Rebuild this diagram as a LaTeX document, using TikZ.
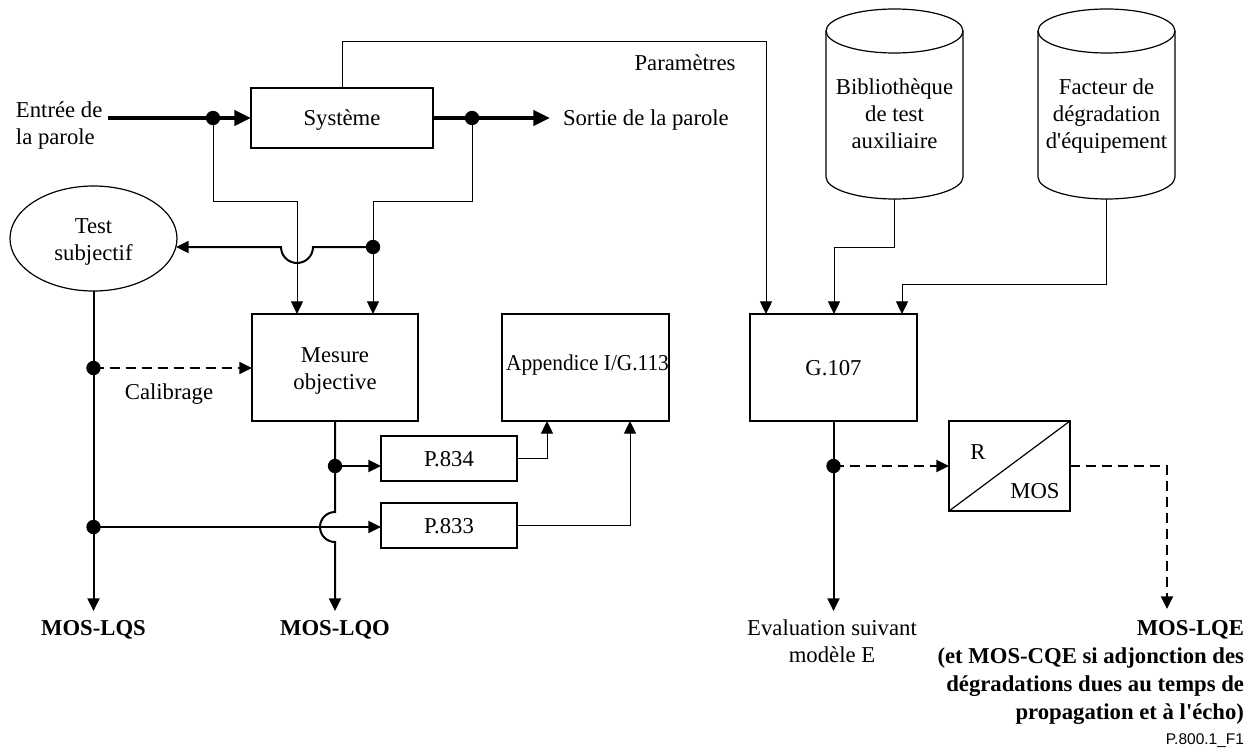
\documentclass[tikz,border=0pt]{standalone}
\usepackage{fontspec}
\setmainfont{Liberation Serif}
\newfontfamily\figsans{Liberation Sans}
\usepackage{graphicx}
\usetikzlibrary{arrows.meta,calc,shapes.geometric}
\begin{document}
\begin{tikzpicture}[x=0.5pt,y=-0.5pt,
  font=\fontsize{11.35pt}{13.5pt}\selectfont,
  every node/.style={inner sep=0pt, outer sep=0pt},
  box/.style={draw, line width=0.6pt},
  boxtxt/.style={text height=7.7pt, text depth=0pt},
  thinl/.style={line width=0.5pt},
  medl/.style={line width=1pt},
  thickl/.style={line width=2.15pt},
  sarrow/.style={-{Triangle[length=6.3pt,width=6pt]}},
  barrow/.style={-{Triangle[length=8.3pt,width=7.5pt]}},
  dashl/.style={dash pattern=on 5pt off 3pt},
  lbl/.style={anchor=base},
  ml/.style={align=center},
]
\useasboundingbox (0,0) rectangle (1258,749);
\fill[white] (0,0) rectangle (1258,749);

% ---- boxes ----
\node[box, boxtxt, minimum width=91pt, minimum height=30pt] (sys) at (342,118) {Système};
\node[box, minimum width=83pt, minimum height=53.5pt] (mes) at (335,367.5) {};
\node[ml] (mest) at (335,370.5) {Mesure\\objective};
\node[box, minimum width=83.5pt, minimum height=53.5pt] (app) at (585.5,367.5) {};
\node[lbl] (appt) at (587.5,370) {\scalebox{0.94}[1]{Appendice I/G.113}};
\node[box, boxtxt, minimum width=83.5pt, minimum height=53.5pt] (g107) at (833.5,367.5) {G.107};
\node[box, boxtxt, minimum width=68pt, minimum height=22.5pt] (p834) at (449,458.5) {P.834};
\node[box, boxtxt, minimum width=68pt, minimum height=22.5pt] (p833) at (449,525.5) {P.833};
\node[box, minimum width=60.5pt, minimum height=45pt] (rmos) at (1009.5,466) {};
\draw[line width=0.6pt] (rmos.south west) -- (rmos.north east);
\node[lbl] (rt) at (978,459) {R};
\node[lbl] (mt) at (1035,498) {MOS};

% ---- ellipse ----
\node[draw, ellipse, line width=0.6pt, minimum width=83.5pt, minimum height=52.5pt] (test) at (93.5,238.5) {};
\node[ml] (testt) at (93.5,242) {Test\\subjectif};

% ---- cylinders ----
\draw[line width=0.6pt] (826,31) -- (826,177) arc[start angle=180, end angle=0, x radius=68.5, y radius=22] -- (963,31);
\draw[line width=0.6pt] (894.5,31) ellipse [x radius=68.5, y radius=22];
\node[ml] (c1t) at (894.5,114) {Bibliothèque\\de test\\auxiliaire};
\coordinate (c1b) at (894.5,199);
\draw[line width=0.6pt] (1038,31) -- (1038,177) arc[start angle=180, end angle=0, x radius=68.5, y radius=22] -- (1175,31);
\draw[line width=0.6pt] (1106.5,31) ellipse [x radius=68.5, y radius=22];
\node[ml] (c2t) at (1106.5,116.5) {Facteur de\\dégradation\\d\textquotesingle équipement};
\coordinate (c2b) at (1106.5,199);

% ---- coordinates ----
\coordinate (inS) at (108,118);
\coordinate (outE) at (550,118);
\coordinate (d1) at (213,118);
\coordinate (d2) at (472,118);
\coordinate (d3) at (373,247);
\coordinate (d4) at (93.5,368);
\coordinate (d5) at (93.5,527);
\coordinate (d6) at (335,466);
\coordinate (d7) at (833.5,466);
\coordinate (m1) at (297,314);
\coordinate (m2) at (373,314);
\coordinate (te) at (176,247);
\coordinate (lqsA) at (93.5,611);
\coordinate (lqoA) at (335,611);
\coordinate (a1) at (547,421);
\coordinate (a2) at (630,421);
\coordinate (pc) at (766,42);
\coordinate (gIn1) at (766,314);
\coordinate (gIn2) at (834,314);
\coordinate (gIn3) at (902,314);
\coordinate (evA) at (833.5,611);
\coordinate (lqeA) at (1167,609);

% ---- connectors ----
\draw[thickl, barrow] (inS) -- (sys.west);
\draw[thickl, barrow] (sys.east) -- (outE);
\draw[thinl, sarrow] (d1) |- (297,201) -- (m1);
\draw[thinl, sarrow] (d2) |- (373,201) -- (m2);
\draw[medl, sarrow] (d3) -- (313,247) arc[start angle=0, end angle=180, radius=16] -- (te);
\draw[medl, sarrow] (test.south) -- (lqsA);
\draw[medl, sarrow, dashl] (d4) -- (d4 -| mes.west);
\draw[medl, sarrow] (d5) -- (d5 -| p833.west);
\draw[medl, sarrow] (mes.south) -- (335,512) arc[start angle=270, end angle=90, radius=15] -- (lqoA);
\draw[medl, sarrow] (d6) -- (d6 -| p834.west);
\draw[thinl, sarrow] (p834.east) -| (a1);
\draw[thinl, sarrow] (p833.east) -| (a2);
\draw[thinl, sarrow] (sys.north) |- (pc) -- (gIn1);
\draw[thinl, sarrow] (c1b) |- (834,247) -- (gIn2);
\draw[thinl, sarrow] (c2b) |- (902,284) -- (gIn3);
\draw[medl, sarrow] (g107.south) -- (evA);
\draw[medl, sarrow, dashl] (d7) -- (rmos.west);
\draw[medl, sarrow, dashl] (rmos.east) -| (lqeA);

\foreach \d in {d1,d2,d3,d4,d5,d6,d7} \fill (\d) circle[radius=3.6pt];

% ---- labels ----
\node[anchor=west, align=left] (inlbl) at (16,126) {Entrée de\\la parole};
\node[anchor=base west] (outlbl) at (563,126) {Sortie de la parole};
\node[lbl] (param) at (685,70.5) {Paramètres};
\node[lbl] (calib) at (169,399) {Calibrage};
\node[lbl] (lqs) at (93.5,635) {\bfseries MOS-LQS};
\node[lbl] (lqo) at (335,635) {\bfseries MOS-LQO};
\node[ml] (evalt) at (832,641) {Evaluation suivant\\modèle E};
\node[anchor=east, align=right, font=\fontsize{11.35pt}{14pt}\selectfont\bfseries] (lqe) at (1244,672)
  {MOS-LQE\\(et MOS-CQE si adjonction des\\dégradations dues au temps de\\propagation et à l\textquotesingle écho)};
\node[anchor=base east, font=\figsans\fontsize{7.75pt}{9pt}\selectfont] (fid) at (1244,744) {P.800.1\_F1};
\end{tikzpicture}
\end{document}
